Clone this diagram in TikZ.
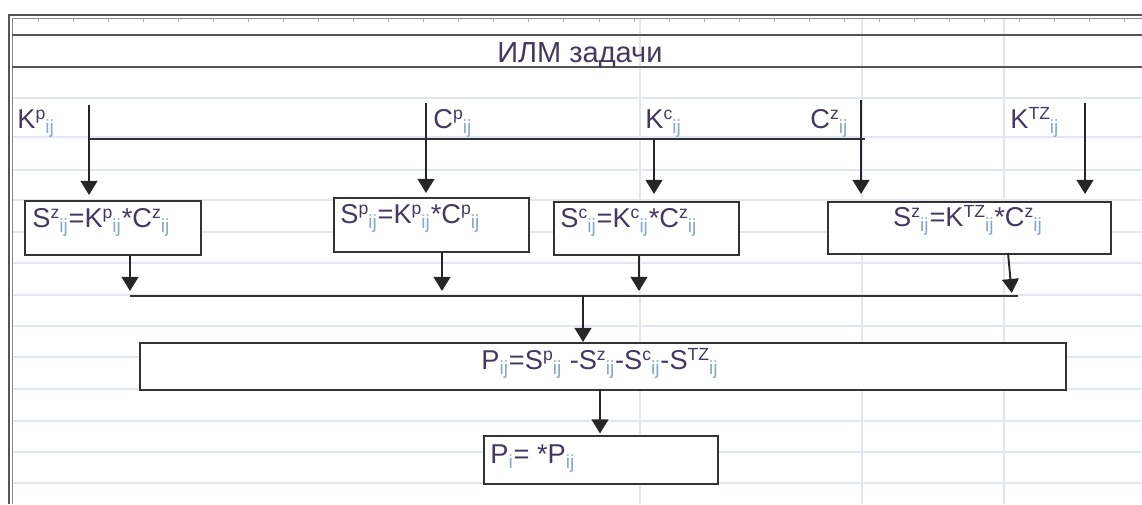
\documentclass[tikz,border=0pt]{standalone}
\usepackage{fontspec}
\setmainfont{Liberation Sans}
\usepackage{xcolor}
\usetikzlibrary{arrows.meta, positioning, calc}
\definecolor{inktext}{HTML}{45385F}
\definecolor{inksub}{HTML}{86A9CC}
\definecolor{gridline}{HTML}{E1E6EF}
\definecolor{sheetrule}{HTML}{555555}
\definecolor{boxline}{HTML}{333333}

\newcommand{\hi}[1]{\raisebox{0.3em}{\fontsize{10}{10}\selectfont #1}}
\newcommand{\ijs}{\textsubscript{\color{inksub}ij}}

\tikzset{
  cell/.style={draw=boxline, line width=1.2pt, fill=white, inner sep=0pt, anchor=north west},
  formula/.style={anchor=base west, inner sep=0pt, text=inktext, font=\fontsize{15.5}{18}\selectfont},
  flow/.style={-{Triangle[length=8pt, width=9.5pt]}, line width=1.1pt, draw=black!85},
  bus/.style={line width=1.1pt, draw=black!80},
}

\begin{document}
\begin{tikzpicture}[x=0.02cm, y=-0.02cm]
  \useasboundingbox (0,0) rectangle (1142,504);
  % sheet grid
  \foreach \y in {98,137,170,200,232,263,295,326,357,389,421,452,483}
    \draw[gridline, line width=1pt] (12,\y) -- (1142,\y);
  \foreach \x in {640,862,1004}
    \draw[gridline, line width=1pt] (\x,18) -- (\x,504);
  % frame and title rows
  \draw[sheetrule, line width=1.5pt] (9,504) -- (9,15) -- (1142,15);
  \draw[sheetrule!70, line width=0.8pt] (12.5,504) -- (12.5,18.5) -- (1142,18.5);
  \foreach \x in {38,73.06,...,1140}
    \draw[sheetrule!45, line width=0.5pt] (\x,19) -- (\x,22);
  \draw[sheetrule, line width=1.3pt] (12,35) -- (1142,35);
  \draw[sheetrule, line width=1.3pt] (12,67) -- (1142,67);
  \node[formula, font=\fontsize{16.5}{18}\selectfont] (title) at (497,62) {ИЛМ задачи};

  % input values
  \node[formula] (kp) at (17,128) {K\hi{p}\ijs};
  \node[formula] (cp) at (433,128) {C\hi{p}\ijs};
  \node[formula] (kc) at (645,128) {K\hi{c}\ijs};
  \node[formula] (cz) at (810,128) {C\hi{z}\ijs};
  \node[formula] (ktz) at (1010,128) {K\hi{TZ}\ijs};

  % cost boxes
  \node[cell, minimum width=3.52cm, minimum height=1.08cm] (szp) at (24,200) {};
  \node[formula] (szp text) at (32,227) {S\hi{z}\ijs=K\hi{p}\ijs*C\hi{z}\ijs};
  \node[cell, minimum width=3.90cm, minimum height=1.08cm] (spp) at (333,197) {};
  \node[formula] (spp text) at (340,223) {S\hi{p}\ijs=K\hi{p}\ijs*C\hi{p}\ijs};
  \node[cell, minimum width=3.70cm, minimum height=1.06cm] (scc) at (553,201) {};
  \node[formula] (scc text) at (560,227) {S\hi{c}\ijs=K\hi{c}\ijs*C\hi{z}\ijs};
  \node[cell, minimum width=5.66cm, minimum height=1.04cm] (stz) at (827,201) {};
  \node[formula, anchor=base] (stz text) at (968,226) {S\hi{z}\ijs=K\hi{TZ}\ijs*C\hi{z}\ijs};

  % profit boxes
  \node[cell, minimum width=18.52cm, minimum height=0.94cm] (pij) at (139,342) {};
  \node[formula, anchor=base] (pij text) at (600,369) {P\ijs=S\hi{p}\ijs\ -S\hi{z}\ijs-S\hi{c}\ijs-S\hi{TZ}\ijs};
  \node[cell, minimum width=4.68cm, minimum height=0.96cm] (pi) at (483,435) {};
  \node[formula] (pi text) at (490,463) {P\textsubscript{\color{inksub}i}= *P\ijs};

  % inputs into the cost boxes
  \coordinate (in1) at (89,105);
  \coordinate (in2) at (426,103);
  \coordinate (in4) at (861,100);
  \coordinate (in5) at (1085,103);
  \coordinate (barL) at (89,139);
  \coordinate (barR) at (865,139);
  \coordinate (in3) at (654,139);
  \draw[bus] (barL) -- (barR);
  \draw[flow, shorten >=0.1cm] (in1) -- (in1 |- szp.north);
  \draw[flow, shorten >=0.08cm] (in2) -- (in2 |- spp.north);
  \draw[flow, shorten >=0.14cm] (in3) -- (in3 |- scc.north);
  \draw[flow, shorten >=0.14cm] (in4) -- (in4 |- stz.north);
  \draw[flow, shorten >=0.14cm] (in5) -- (in5 |- stz.north);

  % outputs onto the common line
  \coordinate (out1) at (130,296);
  \coordinate (out2) at (442,296);
  \coordinate (out3) at (639,296);
  \coordinate (out4) at (1012,296);
  \coordinate (out4 top) at (1008,253);
  \coordinate (busR) at (1018,296);
  \coordinate (join) at (583,296);
  \draw[bus] (out1) -- (busR);
  \draw[flow, shorten >=0.1cm] (out1 |- szp.south) -- (out1);
  \draw[flow, shorten >=0.1cm] (out2 |- spp.south) -- (out2);
  \draw[flow, shorten >=0.1cm] (out3 |- scc.south) -- (out3);
  \draw[flow, shorten >=0.06cm] (out4 top) -- (out4);

  % profit chain
  \draw[flow] (join) -- (join |- pij.north);
  \coordinate (drop) at (600,389);
  \draw[flow, shorten >=0.03cm] (drop) -- (drop |- pi.north);
\end{tikzpicture}
\end{document}
